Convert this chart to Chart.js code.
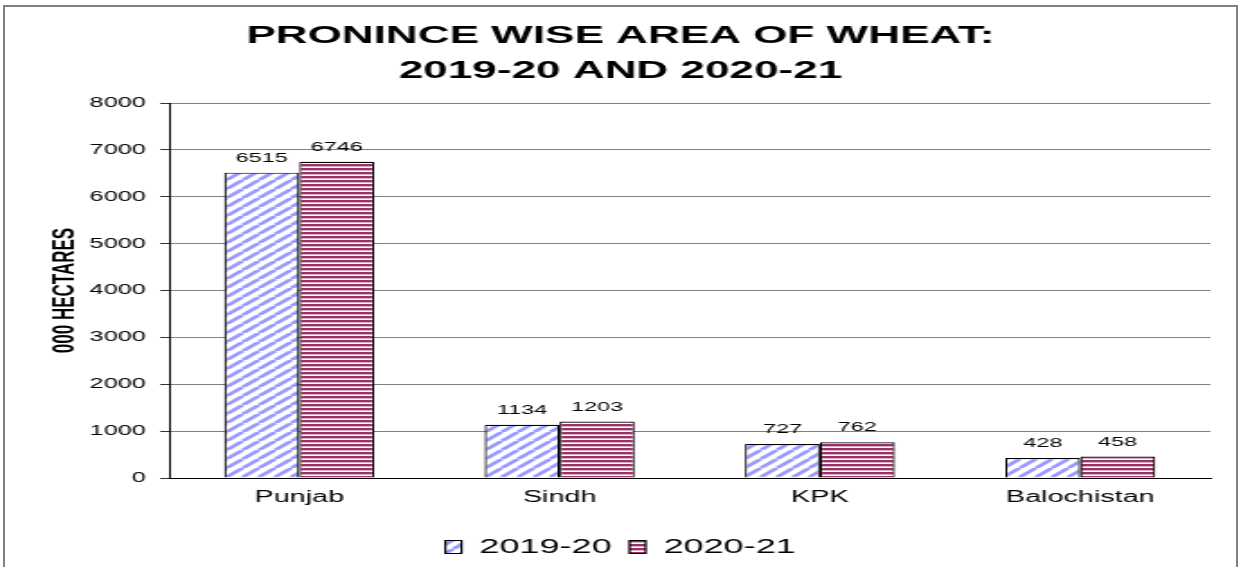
<!DOCTYPE html>
<html>
<head>
<meta charset="utf-8">
<title>Province wise area of wheat</title>
<script src="https://cdn.jsdelivr.net/npm/chart.js@4.4.1/dist/chart.umd.min.js"></script>
<style>
    html, body { margin: 0; padding: 0; background: #fff; overflow: hidden; }
    #frame {
        position: absolute; left: 3px; top: 5px;
        width: 1235px; height: 620px;
        border: 2px solid #808080; box-sizing: border-box;
    }
    #wheatChart { position: absolute; left: 0; top: 0; }
</style>
</head>
<body>
<div id="frame"></div>
<!-- the picture is stretched sideways, so the canvas is drawn narrow and widened by css -->
<canvas id="wheatChart" width="690" height="567" style="width:1241px;height:567px"></canvas>
<script>
const provinces = ['Punjab', 'Sindh', 'KPK', 'Balochistan'];
const area2019 = [6515, 1134, 727, 428];
const area2020 = [6746, 1203, 762, 458];
const yTicks = [0, 1000, 2000, 3000, 4000, 5000, 6000, 7000, 8000];

document.addEventListener('DOMContentLoaded', function() {
    const canvas = document.getElementById('wheatChart');
    const ctx = canvas.getContext('2d');

    Chart.defaults.font.family = '"Liberation Sans", Arial, sans-serif';
    Chart.defaults.color = '#000';

    // blue diagonal hatch
    function diagonalPattern() {
        const w = 9, h = 9;
        const tile = document.createElement('canvas');
        tile.width = w; tile.height = h;
        const t = tile.getContext('2d');
        t.fillStyle = '#fff';
        t.fillRect(0, 0, w, h);
        t.strokeStyle = '#9b9bff';
        t.lineWidth = 2.8;
        for (let k = -1; k <= 1; k++) {
            t.beginPath();
            t.moveTo(k * w, h);
            t.lineTo(k * w + w, 0);
            t.stroke();
        }
        return ctx.createPattern(tile, 'repeat');
    }

    // maroon horizontal stripes
    function stripePattern() {
        const tile = document.createElement('canvas');
        tile.width = 4; tile.height = 4;
        const t = tile.getContext('2d');
        t.fillStyle = '#fff';
        t.fillRect(0, 0, 4, 4);
        t.fillStyle = '#993366';
        t.fillRect(0, 0, 4, 2.4);
        return ctx.createPattern(tile, 'repeat');
    }

    const barValueLabels = {
        id: 'barValueLabels',
        afterDatasetsDraw(chart) {
            const c = chart.ctx;
            c.save();
            c.font = '13px "Liberation Sans", Arial, sans-serif';
            c.fillStyle = '#000';
            c.textAlign = 'center';
            c.textBaseline = 'bottom';
            chart.data.datasets.forEach((ds, i) => {
                chart.getDatasetMeta(i).data.forEach((bar, j) => {
                    c.fillText(ds.data[j], bar.x, bar.y - 8);
                });
            });
            c.restore();
        }
    };

    new Chart(ctx, {
        type: 'bar',
        data: {
            labels: provinces,
            datasets: [{
                label: '2019-20',
                data: area2019,
                backgroundColor: diagonalPattern(),
                borderColor: '#000',
                borderWidth: 1.2,
                barPercentage: 1,
                categoryPercentage: 0.576
            }, {
                label: '2020-21',
                data: area2020,
                backgroundColor: stripePattern(),
                borderColor: '#000',
                borderWidth: 1.2,
                barPercentage: 1,
                categoryPercentage: 0.576
            }]
        },
        options: {
            responsive: false,
            animation: false,
            layout: { padding: { left: 17, right: 17, top: 0, bottom: 0 } },
            plugins: {
                title: {
                    display: true,
                    text: ['PRONINCE WISE AREA OF WHEAT:', '2019-20 AND 2020-21'],
                    color: '#000',
                    font: { size: 24.5, weight: 'bold', lineHeight: 1.45 },
                    padding: { top: 18, bottom: 14 }
                },
                legend: {
                    position: 'bottom',
                    labels: {
                        color: '#000',
                        font: { size: 20 },
                        boxWidth: 9,
                        boxHeight: 13,
                        padding: 10
                    }
                },
                tooltip: { enabled: false }
            },
            scales: {
                x: {
                    grid: { display: false, drawTicks: false },
                    border: { display: true, color: '#000', width: 1 },
                    ticks: { color: '#000', font: { size: 16 }, padding: 10 },
                    afterFit(scale) { scale.height = 49; }
                },
                y: {
                    min: yTicks[0],
                    max: yTicks[yTicks.length - 1],
                    afterBuildTicks(scale) {
                        scale.ticks = yTicks.map(v => ({ value: v }));
                    },
                    ticks: {
                        color: '#000',
                        font: { size: 14 },
                        padding: 8,
                        callback: v => String(v)
                    },
                    grid: { color: '#808080', lineWidth: 1, tickLength: 5, tickColor: '#333' },
                    border: { display: true, color: '#000', width: 1 },
                    title: {
                        display: true,
                        text: '000 HECTARES',
                        color: '#000',
                        font: { family: '"Liberation Sans Narrow", "Liberation Sans", Arial, sans-serif', size: 17, weight: 'bold' },
                        padding: { top: 9, bottom: 0 }
                    },
                    afterFit(scale) { scale.width = 77; }
                }
            }
        },
        plugins: [barValueLabels]
    });
});
</script>
</body>
</html>
